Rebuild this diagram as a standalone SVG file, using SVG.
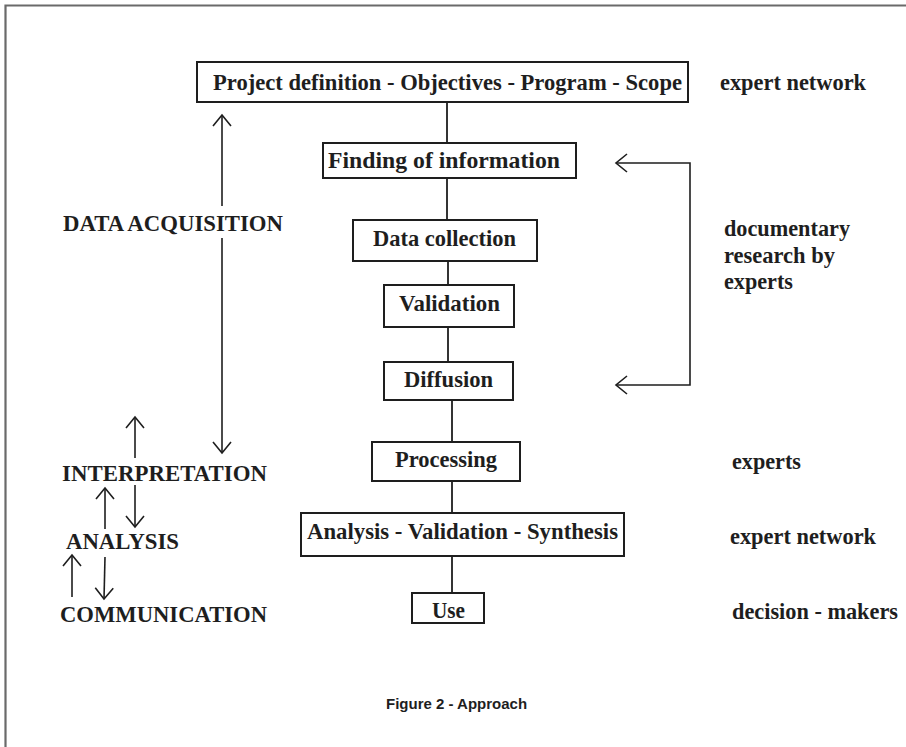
<svg xmlns="http://www.w3.org/2000/svg" width="906" height="747" viewBox="0 0 906 747">
<style>
.frame{stroke:#6a6a6a;stroke-width:2.2;fill:none}
.box{fill:#fff;stroke:#1e1e1e;stroke-width:2}
.t{font-family:"Liberation Serif","Times New Roman",serif;font-weight:bold;font-size:23.5px;fill:#1e1e1e}
.cap{font-family:"Liberation Sans",Arial,sans-serif;font-weight:bold;font-size:15px;fill:#1e1e1e}
.ln{stroke:#1e1e1e;stroke-width:1.8;fill:none}
.ar{stroke:#1e1e1e;stroke-width:1.6;fill:none}
</style>
<defs>
<marker id="arr" viewBox="-13 -10 15 20" refX="0" refY="0" markerWidth="15" markerHeight="20" markerUnits="userSpaceOnUse" orient="auto-start-reverse">
<path d="M-11,-9 L0,0 L-11,9" fill="none" stroke="#1e1e1e" stroke-width="1.6"/>
</marker>
</defs>
<rect width="906" height="747" fill="#fff"/>
<path class="frame" d="M5.5,747 L5.5,5.5 L906,5.5"/>

<g id="connectors">
<line class="ln" x1="447" y1="102" x2="447" y2="143"/>
<line class="ln" x1="447" y1="178" x2="447" y2="220"/>
<line class="ln" x1="448" y1="261" x2="448" y2="285"/>
<line class="ln" x1="448" y1="327" x2="448" y2="362"/>
<line class="ln" x1="452" y1="400" x2="452" y2="442"/>
<line class="ln" x1="452" y1="481" x2="452" y2="513"/>
<line class="ln" x1="452" y1="556" x2="452" y2="593"/>
<path class="ar" d="M616,163 L690,163 L690,385 L616,385" marker-start="url(#arr)" marker-end="url(#arr)"/>
<path class="ar" d="M222,206 L222,115" marker-end="url(#arr)"/>
<path class="ar" d="M222,238 L222,453" marker-end="url(#arr)"/>
<path class="ar" d="M135,458 L135,417" marker-end="url(#arr)"/>
<path class="ar" d="M135,485 L135,527" marker-end="url(#arr)"/>
<path class="ar" d="M105,529 L105,488" marker-end="url(#arr)"/>
<path class="ar" d="M72,597 L72,555" marker-end="url(#arr)"/>
<path class="ar" d="M105,557 L104,599" marker-end="url(#arr)"/>
</g>

<g id="n-project">
<rect class="box" x="197" y="62" width="491" height="40"/>
<text class="t" x="213" y="90" textLength="469" lengthAdjust="spacingAndGlyphs">Project definition - Objectives - Program - Scope</text>
</g>
<g id="n-finding">
<rect class="box" x="323" y="143" width="253" height="35"/>
<text class="t" x="328" y="168" textLength="232" lengthAdjust="spacingAndGlyphs">Finding of information</text>
</g>
<g id="n-datacollection">
<rect class="box" x="353" y="220" width="184" height="41"/>
<text class="t" x="373" y="246" textLength="143" lengthAdjust="spacingAndGlyphs">Data collection</text>
</g>
<g id="n-validation">
<rect class="box" x="384" y="285" width="130" height="42"/>
<text class="t" x="399" y="311" textLength="101" lengthAdjust="spacingAndGlyphs">Validation</text>
</g>
<g id="n-diffusion">
<rect class="box" x="384" y="362" width="129" height="38"/>
<text class="t" x="404" y="387" textLength="89" lengthAdjust="spacingAndGlyphs">Diffusion</text>
</g>
<g id="n-processing">
<rect class="box" x="372" y="442" width="148" height="39"/>
<text class="t" x="395" y="467" textLength="102" lengthAdjust="spacingAndGlyphs">Processing</text>
</g>
<g id="n-analysis">
<rect class="box" x="301" y="513" width="323" height="43"/>
<text class="t" x="307" y="539" textLength="311" lengthAdjust="spacingAndGlyphs">Analysis - Validation - Synthesis</text>
</g>
<g id="n-use">
<rect class="box" x="412" y="593" width="72" height="30"/>
<text class="t" x="432" y="618" textLength="33" lengthAdjust="spacingAndGlyphs">Use</text>
</g>

<g id="left-labels">
<text class="t" x="63" y="231" textLength="220" lengthAdjust="spacingAndGlyphs">DATA ACQUISITION</text>
<text class="t" x="62" y="481" textLength="205" lengthAdjust="spacingAndGlyphs">INTERPRETATION</text>
<text class="t" x="66" y="549" textLength="113" lengthAdjust="spacingAndGlyphs">ANALYSIS</text>
<text class="t" x="60" y="622" textLength="207" lengthAdjust="spacingAndGlyphs">COMMUNICATION</text>
</g>

<g id="right-labels">
<text class="t" x="720" y="90" textLength="146" lengthAdjust="spacingAndGlyphs">expert network</text>
<text class="t" x="724" y="236" textLength="126" lengthAdjust="spacingAndGlyphs">documentary</text>
<text class="t" x="724" y="263" textLength="111" lengthAdjust="spacingAndGlyphs">research by</text>
<text class="t" x="724" y="289" textLength="69" lengthAdjust="spacingAndGlyphs">experts</text>
<text class="t" x="732" y="469" textLength="69" lengthAdjust="spacingAndGlyphs">experts</text>
<text class="t" x="730" y="544" textLength="146" lengthAdjust="spacingAndGlyphs">expert network</text>
<text class="t" x="732" y="619" textLength="166" lengthAdjust="spacingAndGlyphs">decision - makers</text>
</g>

<text class="cap" x="386" y="709">Figure 2 - Approach</text>
</svg>
